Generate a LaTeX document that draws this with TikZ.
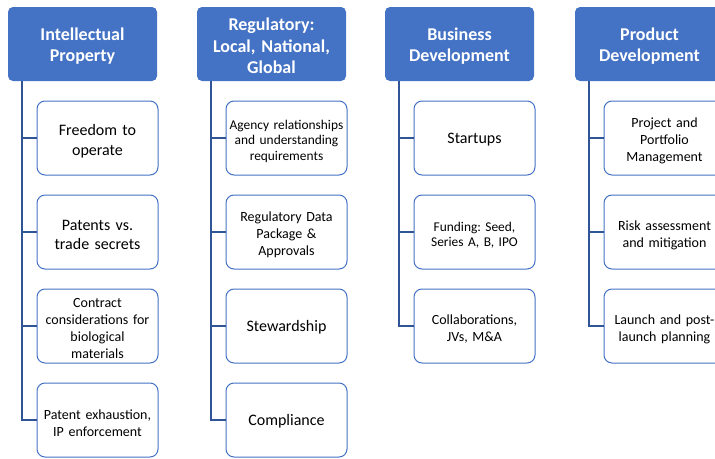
\documentclass[tikz,border=0pt]{standalone}
\usepackage{fontspec}
\setmainfont{Carlito}
\frenchspacing
\definecolor{hdblue}{HTML}{4472C4}
\definecolor{lnblue}{HTML}{2F5597}
\tikzset{
  header/.style={fill=hdblue, rounded corners=5pt, minimum width=149pt, minimum height=74pt,
    inner sep=0pt, text=white, align=center, text width=145pt,
    execute at end node={\par\vspace*{-4pt}}, font=\fontsize{18}{21.5}\selectfont\bfseries},
  hdshade/.style={header, fill=none, text=black!55, opacity=0.45},
  item/.style={draw=hdblue, line width=1pt, fill=white, rounded corners=8pt,
    minimum width=121pt, minimum height=74pt, inner sep=0pt, align=center, text width=117pt,
    execute at end node={\par\vspace*{-6pt}}},
  big/.style={font=\fontsize{16}{19.5}\selectfont},
  mid/.style={font=\fontsize{14}{17}\selectfont},
  small/.style={font=\fontsize{13.4}{15.5}\selectfont},
  link/.style={draw=lnblue, line width=1.4pt}
}
\begin{document}
\begin{tikzpicture}[x=1pt,y=-1pt]
\useasboundingbox (0,0) rectangle (715,458);

% intellectual property
\begin{scope}[shift={(0,0)}]
 \node[hdshade] (ips) at (83.3,44.8) {Intellectual\\Property};
 \node[header] (ip) at (82.5,44) {Intellectual\\Property};
 \node[item,big] (ip1) at (97.5,138) {Freedom to\\operate};
 \node[item,big] (ip2) at (97.5,232) {Patents vs.\\trade secrets};
 \node[item,mid] (ip3) at (97.5,326) {Contract\\considerations for\\biological\\materials};
 \node[item,mid] (ip4) at (97.5,420) {Patent exhaustion,\\IP enforcement};
 \draw[link] ([xshift=14pt]ip.south west) |- (ip1.west);
 \draw[link] ([xshift=14pt]ip.south west) |- (ip2.west);
 \draw[link] ([xshift=14pt]ip.south west) |- (ip3.west);
 \draw[link] ([xshift=14pt]ip.south west) |- (ip4.west);
\end{scope}

% regulatory
\begin{scope}[shift={(189,0)}]
 \node[hdshade] (rgs) at (83.3,44.8) {Regulatory:\\Local, National,\\Global};
 \node[header] (rg) at (82.5,44) {Regulatory:\\Local, National,\\Global};
 \node[item,small] (rg1) at (97.5,138) {Agency relationships\\and understanding\\requirements};
 \node[item,mid] (rg2) at (97.5,232) {Regulatory Data\\Package \&\\Approvals};
 \node[item,big] (rg3) at (97.5,326) {Stewardship};
 \node[item,big] (rg4) at (97.5,420) {Compliance};
 \draw[link] ([xshift=14pt]rg.south west) |- (rg1.west);
 \draw[link] ([xshift=14pt]rg.south west) |- (rg2.west);
 \draw[link] ([xshift=14pt]rg.south west) |- (rg3.west);
 \draw[link] ([xshift=14pt]rg.south west) |- (rg4.west);
\end{scope}

% business development
\begin{scope}[shift={(377,0)}]
 \node[hdshade] (bds) at (83.3,44.8) {Business\\Development};
 \node[header] (bd) at (82.5,44) {Business\\Development};
 \node[item,big] (bd1) at (97.5,138) {Startups};
 \node[item,small] (bd2) at (97.5,232) {Funding: Seed,\\Series A, B, IPO};
 \node[item,mid] (bd3) at (97.5,326) {Collaborations,\\JVs, M\&A};
 \draw[link] ([xshift=14pt]bd.south west) |- (bd1.west);
 \draw[link] ([xshift=14pt]bd.south west) |- (bd2.west);
 \draw[link] ([xshift=14pt]bd.south west) |- (bd3.west);
\end{scope}

% product development
\begin{scope}[shift={(567,0)}]
 \node[hdshade] (pds) at (83.3,44.8) {Product\\Development};
 \node[header] (pd) at (82.5,44) {Product\\Development};
 \node[item,mid] (pd1) at (97.5,138) {Project and\\Portfolio\\Management};
 \node[item,mid] (pd2) at (97.5,232) {Risk assessment\\and mitigation};
 \node[item,mid] (pd3) at (97.5,326) {Launch and post-\\launch planning};
 \draw[link] ([xshift=14pt]pd.south west) |- (pd1.west);
 \draw[link] ([xshift=14pt]pd.south west) |- (pd2.west);
 \draw[link] ([xshift=14pt]pd.south west) |- (pd3.west);
\end{scope}

\end{tikzpicture}
\end{document}
